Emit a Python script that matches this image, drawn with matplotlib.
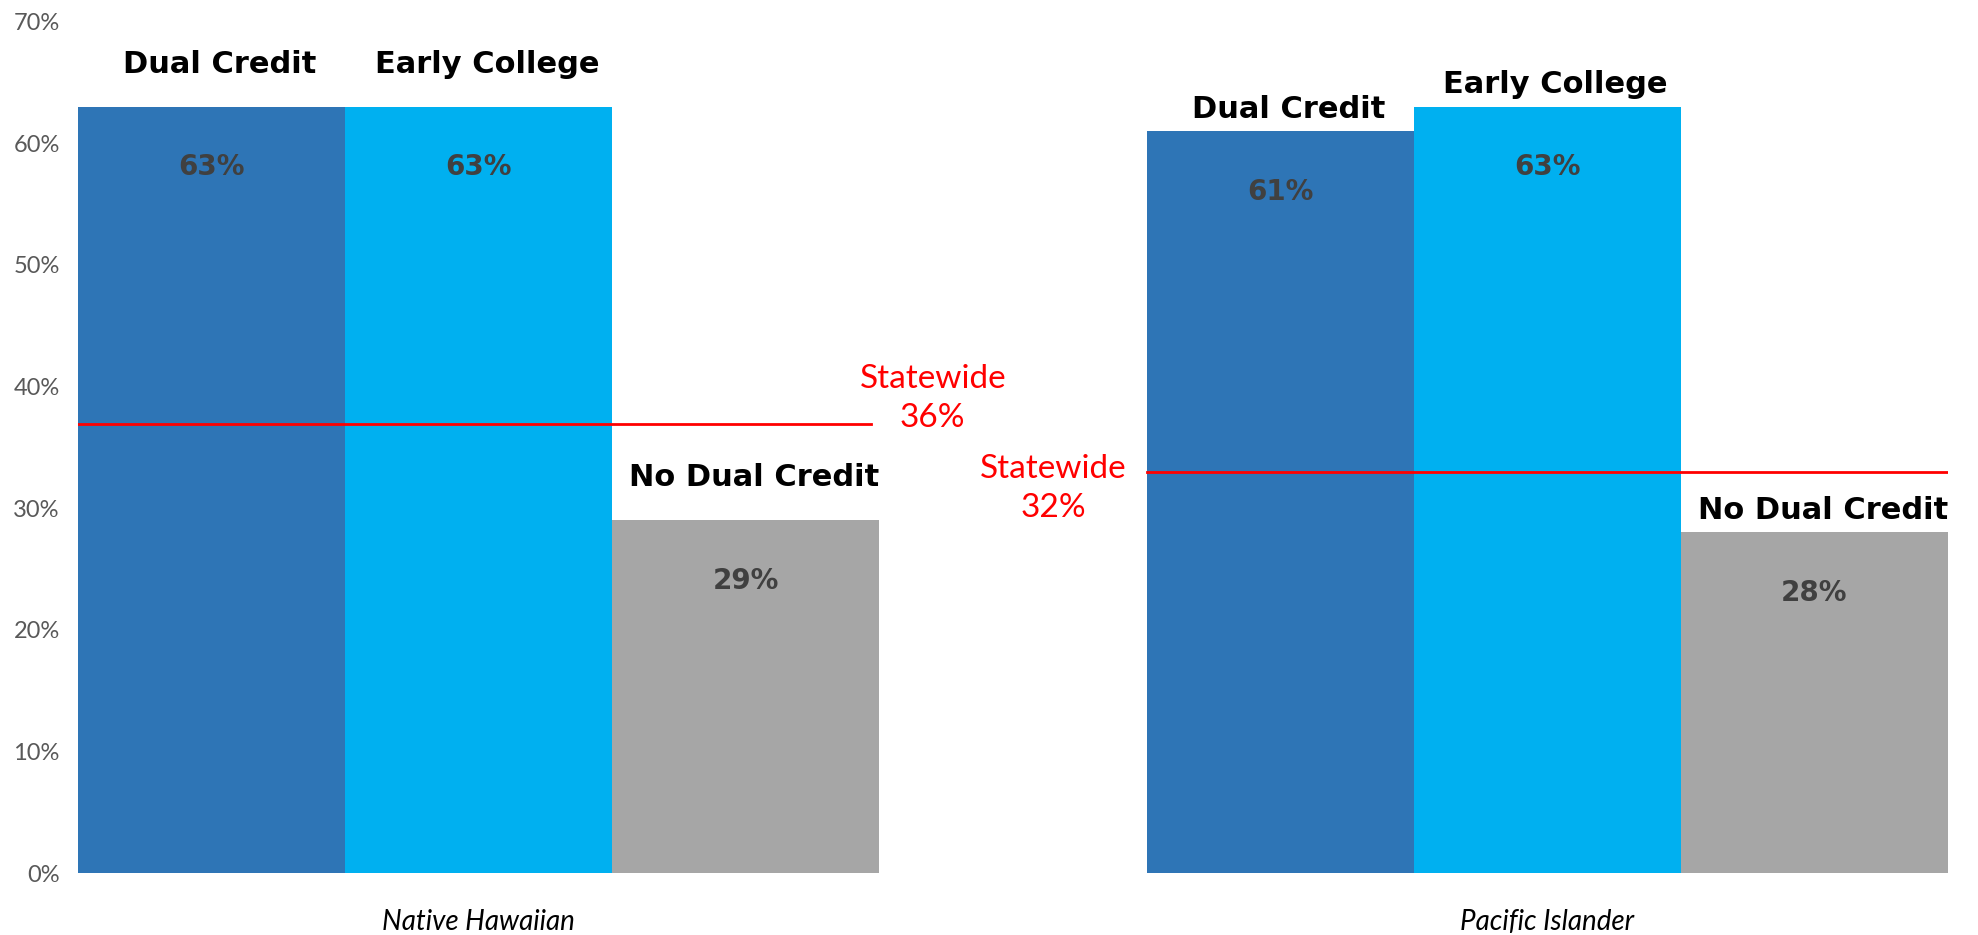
import numpy as np
import matplotlib
matplotlib.use("Agg")
import matplotlib.pyplot as plt

groups = ['Native Hawaiian', 'Pacific Islander']
programs = ['Dual Credit', 'Early College', 'No Dual Credit']
dual_credit = [63, 61]
early_college = [63, 63]
no_dual_credit = [29, 28]
statewide = [36, 32]
statewide_line = [36.9, 33.0]   # where the red lines sit in the picture
yticks = [0, 10, 20, 30, 40, 50, 60, 70]

colors = ['#2E75B6', '#00B0F0', '#A6A6A6']
name_pad = [3.5, 1.8]

plt.rcParams['font.family'] = ['Lato', 'DejaVu Sans']

fig = plt.figure(figsize=(19.78, 9.35), dpi=100)
ax = fig.add_axes([0.0394, 0.0663, 0.9454, 0.9107])

centers = np.array([0, 4])
series = [dual_credit, early_college, no_dual_credit]
for i, vals in enumerate(series):
    xs = centers + (i - 1)
    ax.bar(xs, vals, width=1.0, color=colors[i], linewidth=0)
    for g, (x, v) in enumerate(zip(xs, vals)):
        # names sit a touch right of the bar centre, as in the original
        ax.annotate(programs[i], (x, v + name_pad[g]), xytext=(6, 0),
                    textcoords='offset points', ha='center', va='center',
                    fontsize=22, fontweight='bold', color='black', family='DejaVu Sans')
        ax.text(x, v - 5, f'{v}%', ha='center', va='center',
                fontsize=20, fontweight='bold', color='#404040', family='DejaVu Sans')

# statewide lines
ax.plot([-1.5, 1.47], [statewide_line[0]] * 2, color='red', lw=2)
ax.plot([2.5, 5.5], [statewide_line[1]] * 2, color='red', lw=2)
ax.text(1.70, statewide_line[0] + 2.1, f'Statewide\n{statewide[0]}%', ha='center',
        va='center', fontsize=24, color='red', linespacing=1.4)
ax.text(2.15, statewide_line[1] - 1.4, f'Statewide\n{statewide[1]}%', ha='center',
        va='center', fontsize=24, color='red', linespacing=1.4)

ax.set_xlim(-1.5, 5.5)
ax.set_ylim(0, 70)
ax.set_yticks(yticks)
ax.set_yticklabels([f'{t}%' for t in yticks], fontsize=17, color='#595959')
ax.set_xticks(centers)
ax.set_xticklabels(groups, fontsize=20, style='italic', color='black')
ax.tick_params(axis='y', length=0, pad=13)
ax.tick_params(axis='x', length=0, pad=26)
for s in ax.spines.values():
    s.set_visible(False)

fig.savefig('out.png', dpi=100)
